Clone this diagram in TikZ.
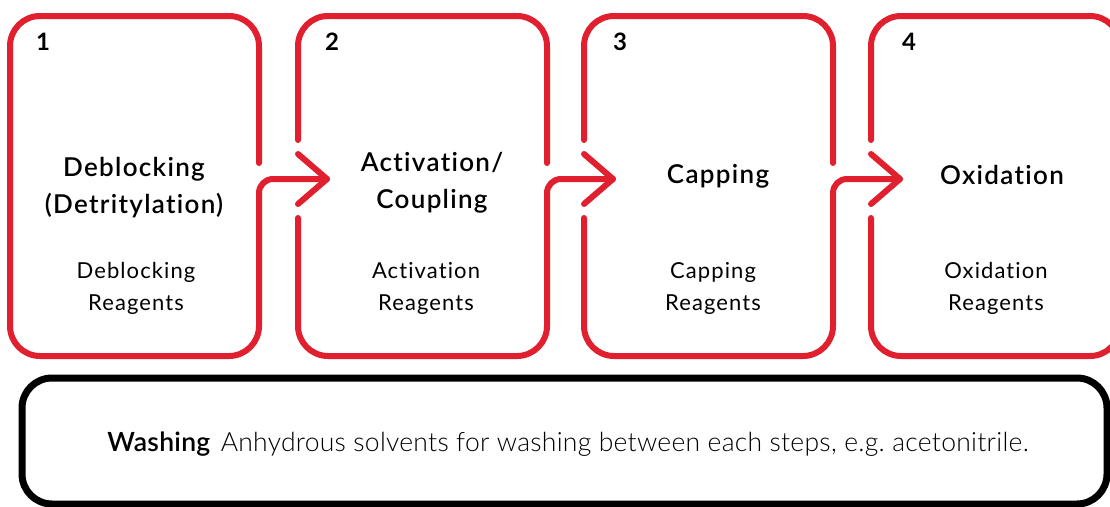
\documentclass[tikz,border=0pt]{standalone}
\usepackage{fontspec}
\setmainfont{Lato}[Ligatures=NoCommon]
\newfontfamily\lightfont{Lato}[UprightFont=* Light,LetterSpace=1,Ligatures=NoCommon]
\newfontfamily\headfont{Lato}[UprightFont=* Semibold,LetterSpace=5,Ligatures=NoCommon]
\newfontfamily\bodyfont{Lato}[LetterSpace=5,Ligatures=NoCommon]
\newfontfamily\washfont{Lato}[UprightFont=* Semibold,LetterSpace=1,Ligatures=NoCommon]
\definecolor{boxred}{HTML}{E0202E}
\frenchspacing
\begin{document}
\begin{tikzpicture}[x=1pt,y=-1pt,
  redline/.style={draw=boxred,line width=6pt,line cap=round,line join=round},
  numlabel/.style={font=\fontsize{24}{28}\selectfont\bfseries,inner sep=0pt},
  headlabel/.style={font=\fontsize{26}{37}\selectfont\headfont,align=center,inner sep=0pt},
  reagent/.style={font=\fontsize{22}{32}\selectfont\bodyfont,align=center,inner sep=0pt},
  washbox/.style={draw=black,line width=7pt,rounded corners=30pt,minimum width=1085pt,minimum height=126pt,inner sep=0pt}]
\fill[white] (0,0) rectangle (1110,506);
\useasboundingbox (0,0) rectangle (1110,506);

% box 1
\draw[redline] (259,163) -- (259,46) arc[start angle=0,end angle=-90,radius=30]
  -- (40,16) arc[start angle=-90,end angle=-180,radius=30]
  -- (10,326) arc[start angle=180,end angle=90,radius=30]
  -- (229,356) arc[start angle=90,end angle=0,radius=30]
  -- (259,193) arc[start angle=180,end angle=270,radius=14] -- (327,179);
\draw[redline] (298,154) -- (327,179) -- (298,204);

% box 2
\draw[redline] (298,140) -- (298,46) arc[start angle=180,end angle=270,radius=30]
  -- (517,16) arc[start angle=-90,end angle=0,radius=30] -- (547,163);
\draw[redline] (298,218) -- (298,326) arc[start angle=180,end angle=90,radius=30]
  -- (517,356) arc[start angle=90,end angle=0,radius=30]
  -- (547,193) arc[start angle=180,end angle=270,radius=14] -- (613,179);
\draw[redline] (584,154) -- (613,179) -- (584,204);

% box 3
\draw[redline] (584,140) -- (584,46) arc[start angle=180,end angle=270,radius=30]
  -- (803,16) arc[start angle=-90,end angle=0,radius=30] -- (833,163);
\draw[redline] (584,218) -- (584,326) arc[start angle=180,end angle=90,radius=30]
  -- (803,356) arc[start angle=90,end angle=0,radius=30]
  -- (833,193) arc[start angle=180,end angle=270,radius=14] -- (900,179);
\draw[redline] (871,154) -- (900,179) -- (871,204);

% box 4
\draw[redline] (871,218) -- (871,326) arc[start angle=180,end angle=90,radius=30]
  -- (1090,356) arc[start angle=90,end angle=0,radius=30]
  -- (1120,46) arc[start angle=0,end angle=-90,radius=30]
  -- (901,16) arc[start angle=-90,end angle=-180,radius=30] -- (871,140);

% labels
\node[numlabel] (n1) at (43,42) {1};
\node[numlabel] (n2) at (332,42) {2};
\node[numlabel] (n3) at (620,42) {3};
\node[numlabel] (n4) at (909,42) {4};

\node[headlabel] (h1) at (134,188) {Deblocking\\(Detritylation)};
\node[headlabel] (h2) at (432,183) {Activation/\\Coupling};
\node[headlabel] (h3) at (718,176) {Capping};
\node[headlabel] (h4) at (1002,175) {Oxidation};

\node[reagent] (r1) at (136,288) {Deblocking\\Reagents};
\node[reagent] (r2) at (426,288) {Activation\\Reagents};
\node[reagent] (r3) at (713,288) {Capping\\Reagents};
\node[reagent] (r4) at (996,288) {Oxidation\\Reagents};

% washing
\node[washbox] (wash) at (564.5,441) {};
\node[inner sep=0pt,font=\fontsize{26.5}{30}\selectfont] (wtext) at (568,444)
  {{\washfont Washing}\hspace{0.4em}{\lightfont Anhydrous solvents for washing between each steps, e.g. acetonitrile.}};
\end{tikzpicture}
\end{document}
